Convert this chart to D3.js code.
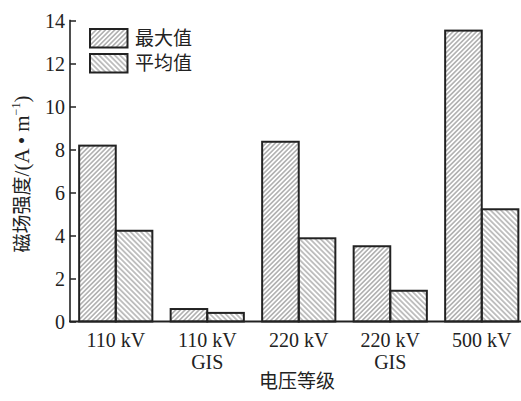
<!DOCTYPE html>
<html>
<head>
<meta charset="utf-8">
<script src="https://cdn.jsdelivr.net/npm/d3@7"></script>
<style>
  html, body { margin: 0; padding: 0; background: #fff; }
  svg { display: block; }
  .num { font-family: "Liberation Serif", "DejaVu Serif", serif; fill: #222; }
  .cjk { font-family: "Noto Sans CJK SC", sans-serif; fill: #222; }
</style>
</head>
<body>
<svg id="chart" width="521" height="401"></svg>
<script>
// Magnetic field strength by voltage level
const categories = ["110 kV", "110 kV\nGIS", "220 kV", "220 kV\nGIS", "500 kV"];
const seriesNames = ["最大值", "平均值"];
const maxValues = [8.18, 0.58, 8.36, 3.5, 13.53];
const avgValues = [4.22, 0.40, 3.87, 1.43, 5.22];
const yTicks = [0, 2, 4, 6, 8, 10, 12, 14];

const svg = d3.select("#chart");
const ink = "#222";

// hatch fills: "/" for maximum, "\" for average
const defs = svg.append("defs");
function hatch(id, angle, gap) {
  const p = defs.append("pattern")
    .attr("id", id)
    .attr("patternUnits", "userSpaceOnUse")
    .attr("width", gap).attr("height", 10)
    .attr("patternTransform", `rotate(${angle})`);
  p.append("line")
    .attr("x1", gap / 2).attr("x2", gap / 2)
    .attr("y1", 0).attr("y2", 10)
    .attr("stroke", "#6a6a6a").attr("stroke-width", 0.85);
}
hatch("hatchMax", 45, 3.3);
hatch("hatchAvg", -45, 3.7);
const fills = ["url(#hatchMax)", "url(#hatchAvg)"];

const y = d3.scaleLinear().domain([0, 14]).range([321.5, 20.5]);
const x = d3.scaleBand().domain(categories).range([70, 527.5])
  .paddingInner(0.2).paddingOuter(0.1);
const xs = d3.scaleBand().domain(seriesNames).range([0, x.bandwidth()]);

const rows = categories.map((c, i) => ({ cat: c, vals: [maxValues[i], avgValues[i]] }));

// bars
const groups = svg.append("g").selectAll("g").data(rows).join("g")
  .attr("transform", d => `translate(${x(d.cat)},0)`);
groups.selectAll("rect")
  .data(d => d.vals.map((v, k) => ({ name: seriesNames[k], v, k })))
  .join("rect")
  .attr("x", d => xs(d.name))
  .attr("y", d => y(d.v))
  .attr("width", xs.bandwidth())
  .attr("height", d => y(0) - y(d.v))
  .attr("fill", d => fills[d.k])
  .attr("stroke", ink)
  .attr("stroke-width", 2);

// y axis with inward ticks
const yAxis = svg.append("g").attr("transform", "translate(70,0)")
  .call(d3.axisRight(y).tickValues(yTicks).tickSize(6).tickFormat(""));
yAxis.select(".domain").remove();
yAxis.selectAll(".tick line").attr("stroke", ink).attr("stroke-width", 1.5);
svg.append("line").attr("x1", 70).attr("x2", 70)
  .attr("y1", y(14) - 0.75).attr("y2", y(0))
  .attr("stroke", ink).attr("stroke-width", 1.6);
svg.append("g").selectAll("text").data(yTicks).join("text")
  .attr("class", "num")
  .attr("x", 65).attr("y", d => y(d))
  .attr("dy", "0.35em")
  .attr("text-anchor", "end")
  .attr("font-size", 20)
  .text(d => d);

// x axis baseline
svg.append("line").attr("x1", 69).attr("x2", 521)
  .attr("y1", y(0)).attr("y2", y(0))
  .attr("stroke", ink).attr("stroke-width", 2);

// category labels
const xl = svg.append("g").selectAll("text").data(categories).join("text")
  .attr("class", "num")
  .attr("text-anchor", "middle")
  .attr("font-size", 20);
xl.each(function (d) {
  const t = d3.select(this);
  d.split("\n").forEach((line, i) => {
    t.append("tspan")
      .attr("x", x(d) + x.bandwidth() / 2)
      .attr("y", 347 + i * 22)
      .text(line);
  });
});

// axis titles
svg.append("text").attr("class", "cjk")
  .attr("x", 297).attr("y", 388)
  .attr("text-anchor", "middle")
  .attr("font-size", 19)
  .text("电压等级");

const yt = svg.append("text")
  .attr("transform", "translate(29,174) rotate(-90)")
  .attr("text-anchor", "middle")
  .attr("font-size", 19);
yt.append("tspan").attr("class", "cjk").text("磁场强度");
yt.append("tspan").attr("class", "num").attr("font-size", 21).text("/(A • m");
yt.append("tspan").attr("class", "num").attr("font-size", 12).attr("dy", -9).text("−1");
yt.append("tspan").attr("class", "num").attr("font-size", 21).attr("dy", 9).text(")");

// legend
const legend = svg.append("g").selectAll("g").data(seriesNames).join("g")
  .attr("transform", (d, i) => `translate(90,${29 + i * 25})`);
legend.append("rect")
  .attr("width", 37.5).attr("height", 18.5)
  .attr("fill", (d, i) => fills[i])
  .attr("stroke", ink).attr("stroke-width", 2);
legend.append("text").attr("class", "cjk")
  .attr("x", 45).attr("y", 9.5).attr("dy", "0.36em")
  .attr("font-size", 19)
  .text(d => d);
</script>
</body>
</html>
